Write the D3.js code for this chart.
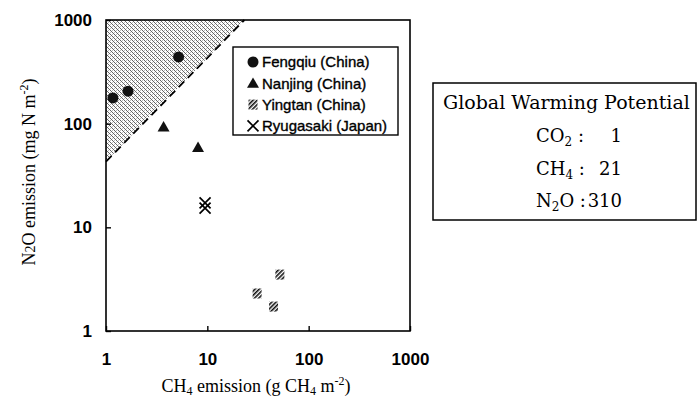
<!DOCTYPE html>
<html>
<head>
<meta charset="utf-8">
<script src="https://cdn.jsdelivr.net/npm/d3@7"></script>
<style>
  html, body { margin: 0; padding: 0; background: #fff; }
  svg { display: block; }
</style>
</head>
<body>
<svg id="chart" width="697" height="399"></svg>
<script>
// ---------- data ----------
const xTicks = [1, 10, 100, 1000];
const yTicks = [1, 10, 100, 1000];

const fengqiu   = [[1.17, 177], [1.65, 206], [5.2, 440]];
const nanjing   = [[3.7, 93], [8.1, 59]];
const yingtan   = [[52, 3.5], [31, 2.3], [45, 1.72]];
const ryugasaki = [[9.5, 17.2], [9.5, 15.3]];

const siteNames = ["Fengqiu (China)", "Nanjing (China)", "Yingtan (China)", "Ryugasaki (Japan)"];

const gwpGases  = ["CO2", "CH4", "N2O"];
const gwpValues = [1, 21, 310];

// ---------- layout ----------
const svg = d3.select("#chart");
const x = d3.scaleLog().domain([1, 1000]).range([106, 410]);
const y = d3.scaleLog().domain([1, 1000]).range([331, 20]);

const defs = svg.append("defs");
// shaded (dotted cross hatch) pattern
const pat = defs.append("pattern").attr("id", "shade")
  .attr("patternUnits", "userSpaceOnUse").attr("width", 4).attr("height", 4);
pat.append("rect").attr("width", 4).attr("height", 4).attr("fill", "#fff");
[[0,0],[1,1],[2,2],[3,3],[2,0],[0,2]].forEach(([px,py],i) => {
  pat.append("rect").attr("x", px).attr("y", py).attr("width", 1).attr("height", 1)
    .attr("fill", i < 4 ? "#666" : "#bbb");
});
// stripes for Yingtan
const st = defs.append("pattern").attr("id", "stripe")
  .attr("patternUnits", "userSpaceOnUse").attr("width", 3).attr("height", 3)
  .attr("patternTransform", "rotate(45)");
st.append("rect").attr("width", 3).attr("height", 3).attr("fill", "#fff");
st.append("rect").attr("width", 1.6).attr("height", 3).attr("fill", "#111");

// GWP-equivalence line: N2O (mg N) = CH4 (g) * GWP_CH4 / GWP_N2O * 1000 * 28/44
const ratio = gwpValues[1] / gwpValues[2] * 1000 * 28 / 44;
const xTop = 1000 / ratio;

// shaded triangle
svg.append("path")
  .attr("d", d3.line()([[x(1), y(1000)], [x(1), y(ratio)], [x(xTop), y(1000)]]) + "Z")
  .attr("fill", "url(#shade)");

// dashed line
svg.append("path")
  .attr("d", d3.line()([[x(1), y(ratio)], [x(xTop), y(1000)]]))
  .attr("stroke", "#000").attr("stroke-width", 1.8)
  .attr("stroke-dasharray", "8,5").attr("fill", "none");

// frame
svg.append("rect").attr("x", x(1)).attr("y", y(1000))
  .attr("width", x(1000) - x(1)).attr("height", y(1) - y(1000))
  .attr("fill", "none").attr("stroke", "#000").attr("stroke-width", 1.6);

// axes
const tickFont = "'Liberation Sans', Arial, sans-serif";
const xAxis = svg.append("g").attr("transform", `translate(0,${y(1)})`)
  .call(d3.axisBottom(x).tickValues(xTicks).tickFormat(d3.format("d"))
        .tickSizeInner(-5).tickSizeOuter(0).tickPadding(22));
const yAxis = svg.append("g").attr("transform", `translate(${x(1)},0)`)
  .call(d3.axisLeft(y).tickValues(yTicks).tickFormat(d3.format("d"))
        .tickSizeInner(-5).tickSizeOuter(0).tickPadding(14));
[xAxis, yAxis].forEach(g => {
  g.select(".domain").remove();
  g.selectAll(".tick line").attr("stroke", "#000").attr("stroke-width", 1.4);
  g.selectAll(".tick text").attr("fill", "#000")
    .style("font-family", tickFont).style("font-size", "17px").style("font-weight", "bold");
});

// markers
function triangle(sel, cx, cy) {
  sel.append("path").attr("d", d3.symbol(d3.symbolTriangle, 62)())
    .attr("transform", `translate(${cx},${cy + 1})`).attr("fill", "#111");
}
function hatchSq(sel, cx, cy) {
  sel.append("rect").attr("x", cx - 4.5).attr("y", cy - 5).attr("width", 9).attr("height", 10)
    .attr("fill", "url(#stripe)");
}
function cross(sel, cx, cy) {
  const s = 5.5;
  sel.append("path").attr("d", `M${cx - s},${cy - s}L${cx + s},${cy + s}M${cx - s},${cy + s}L${cx + s},${cy - s}`)
    .attr("stroke", "#000").attr("stroke-width", 1.7).attr("fill", "none");
}
function circle(sel, cx, cy) {
  sel.append("circle").attr("cx", cx).attr("cy", cy).attr("r", 5.5).attr("fill", "#111");
}

const marks = svg.append("g");
fengqiu.forEach(d => circle(marks, x(d[0]), y(d[1])));
nanjing.forEach(d => triangle(marks, x(d[0]), y(d[1])));
yingtan.forEach(d => hatchSq(marks, x(d[0]), y(d[1])));
ryugasaki.forEach(d => cross(marks, x(d[0]), y(d[1])));

// legend
const lg = svg.append("g");
lg.append("rect").attr("x", 233).attr("y", 47).attr("width", 165).attr("height", 88)
  .attr("fill", "#fff").attr("stroke", "#000").attr("stroke-width", 1.4);
const drawers = [circle, triangle, hatchSq, cross];
siteNames.forEach((name, i) => {
  const cy = 62 + i * 21.3;
  drawers[i](lg, 253, cy);
  lg.append("text").attr("x", 262).attr("y", cy).attr("dy", "0.36em")
    .style("font-family", tickFont).style("font-size", "15px")
    .attr("stroke", "#000").attr("stroke-width", 0.35)
    .text(name);
});

// axis titles
const serif = "'Liberation Serif', 'Times New Roman', serif";
const xt = svg.append("text").attr("x", 256).attr("y", 392).attr("text-anchor", "middle")
  .style("font-family", serif).style("font-size", "18px");
xt.append("tspan").text("CH");
xt.append("tspan").attr("dy", 3).style("font-size", "12px").text("4");
xt.append("tspan").attr("dy", -3).text(" emission (g CH");
xt.append("tspan").attr("dy", 3).style("font-size", "12px").text("4");
xt.append("tspan").attr("dy", -3).text(" m");
xt.append("tspan").attr("dy", -7).style("font-size", "12px").text("-2");
xt.append("tspan").attr("dy", 7).text(")");

const yt = svg.append("text").attr("transform", "translate(35,172) rotate(-90)")
  .attr("text-anchor", "middle")
  .style("font-family", serif).style("font-size", "18px");
yt.append("tspan").text("N");
yt.append("tspan").style("font-size", "14px").text("2");
yt.append("tspan").text("O emission (mg N m");
yt.append("tspan").attr("dy", -7).style("font-size", "12px").text("-2");
yt.append("tspan").attr("dy", 7).text(")");

// GWP box
const gb = svg.append("g");
const gserif = "'DejaVu Serif', serif";
gb.append("rect").attr("x", 433).attr("y", 83).attr("width", 263).attr("height", 137)
  .attr("fill", "#fff").attr("stroke", "#000").attr("stroke-width", 1.5);
gb.append("text").attr("x", 443).attr("y", 109)
  .style("font-family", gserif).style("font-size", "19px").text("Global Warming Potential");
gwpGases.forEach((g, i) => {
  const by = 142 + i * 32.5;
  const t = gb.append("text").attr("x", 536).attr("y", by)
    .style("font-family", gserif).style("font-size", "18px");
  const m = g.match(/^([A-Z]+?)(\d)(.*)$/);
  t.append("tspan").text(m[1]);
  t.append("tspan").attr("dy", 4).style("font-size", "12px").text(m[2]);
  t.append("tspan").attr("dy", -4).text(m[3] + " :");
  gb.append("text").attr("x", 622).attr("y", by).attr("text-anchor", "end")
    .style("font-family", gserif).style("font-size", "18px").text(gwpValues[i]);
});
</script>
</body>
</html>
